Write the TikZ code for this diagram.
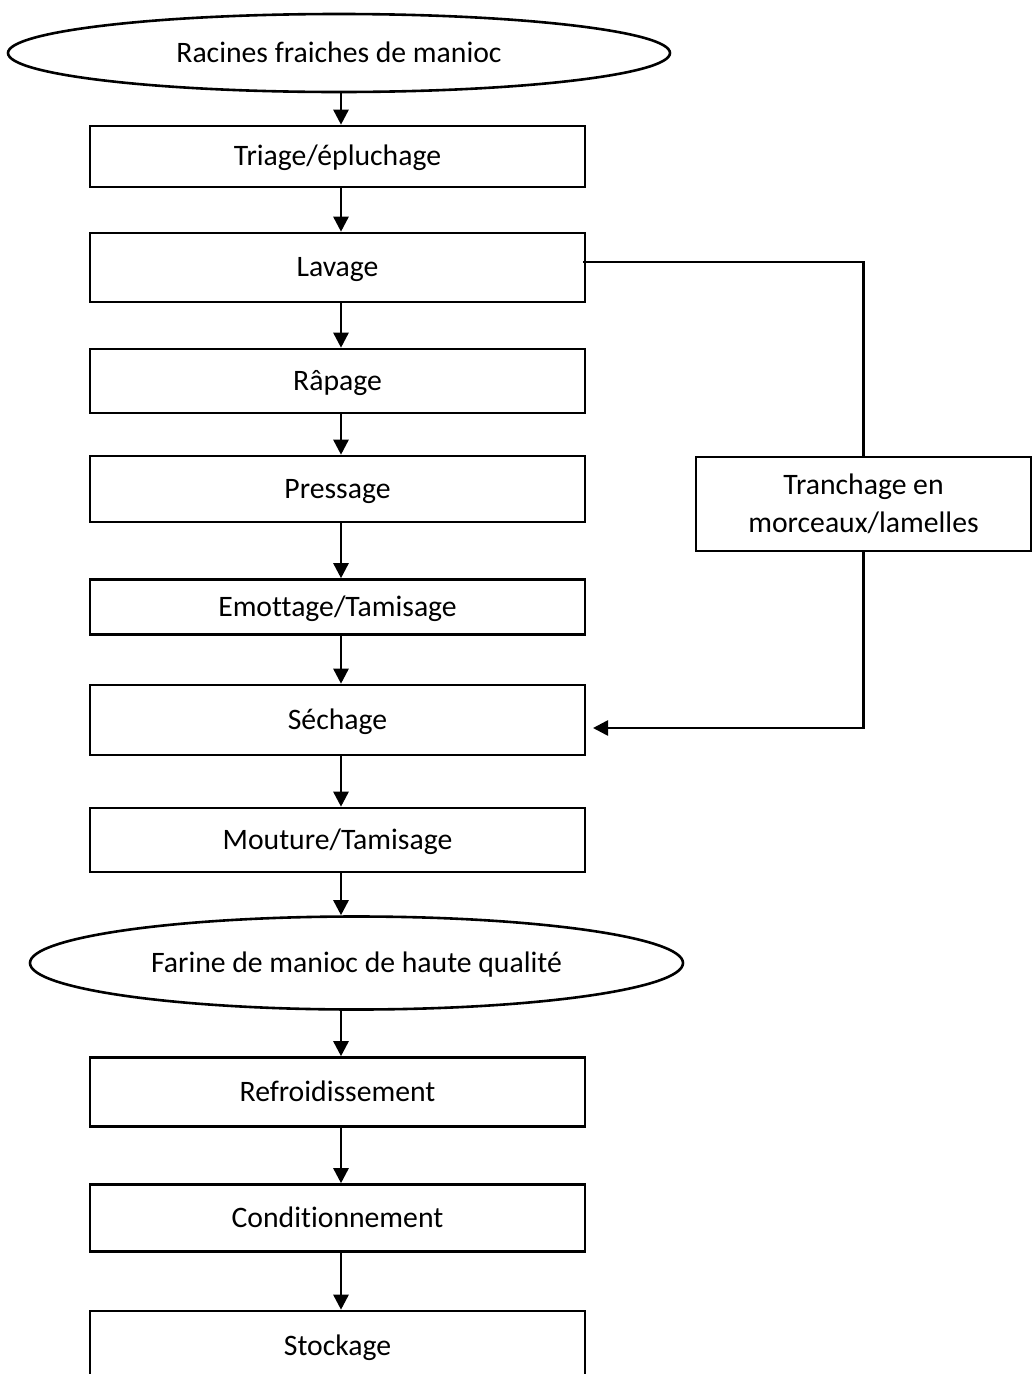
\documentclass[tikz,border=0pt]{standalone}
\usepackage{fontspec}
\setmainfont{Carlito}[Ligatures=NoCommon]
\usetikzlibrary{shapes.geometric,arrows.meta}

\begin{document}
\begin{tikzpicture}[x=1pt,y=-1pt,
  every node/.style={font=\fontsize{29.7}{38}\selectfont, align=center,
    text height=22pt, text depth=4pt, inner sep=0pt},
  stepbox/.style={draw, line width=2.6pt, rectangle, minimum width=495pt},
  endpoint/.style={draw, line width=2.6pt, ellipse},
  flow/.style={line width=2.6pt, -{Triangle[width=15pt,length=15pt]}},
  link/.style={line width=2.6pt}]

\useasboundingbox (0,0) rectangle (1036,1374);
\clip (0,0) rectangle (1036,1374);
\fill[white] (0,0) rectangle (1036,1374);

% main column
\node[endpoint, minimum width=662pt, minimum height=78pt] (src) at (339,53) {Racines fraiches de manioc};
\node[stepbox, minimum height=61pt] (triage)   at (337.5,156.5) {Triage/épluchage};
\node[stepbox, minimum height=69pt] (lavage)   at (337.5,267.5) {Lavage};
\node[stepbox, minimum height=64pt] (rapage)   at (337.5,381)   {Râpage};
\node[stepbox, minimum height=66pt] (pressage) at (337.5,489)   {Pressage};
\node[stepbox, minimum height=55pt] (emottage) at (337.5,607)   {Emottage/Tamisage};
\node[stepbox, minimum height=70pt] (sechage)  at (337.5,720)   {Séchage};
\node[stepbox, minimum height=64pt] (mouture)  at (337.5,840)   {Mouture/Tamisage};
\node[endpoint, minimum width=653pt, minimum height=93pt] (farine) at (356.5,963) {Farine de manioc de haute qualité};
\node[stepbox, minimum height=69pt] (refroid)  at (337.5,1092)  {Refroidissement};
\node[stepbox, minimum height=67pt] (condit)   at (337.5,1218)  {Conditionnement};
\node[stepbox, minimum height=70pt] (stock)    at (337.5,1346)  {Stockage};

% side branch (two lines of text, baseline on the last line)
\node[stepbox, minimum width=335pt, minimum height=94pt, text height=60pt, text depth=4pt] (tranch) at (863.5,504)
  {Tranchage en\\morceaux/lamelles};

% vertical axis of the arrows
\coordinate (axis) at (341,0);

\draw[flow] (src.south -| axis)      -- (triage.north -| axis);
\draw[flow] (triage.south -| axis)   -- (lavage.north -| axis);
\draw[flow] (lavage.south -| axis)   -- (rapage.north -| axis);
\draw[flow] (rapage.south -| axis)   -- (pressage.north -| axis);
\draw[flow] (pressage.south -| axis) -- (emottage.north -| axis);
\draw[flow] (emottage.south -| axis) -- (sechage.north -| axis);
\draw[flow] (sechage.south -| axis)  -- (mouture.north -| axis);
\draw[flow] (mouture.south -| axis)  -- (farine.north -| axis);
\draw[flow] (farine.south -| axis)   -- (refroid.north -| axis);
\draw[flow] (refroid.south -| axis)  -- (condit.north -| axis);
\draw[flow] (condit.south -| axis)   -- (stock.north -| axis);

% branch from washing through slicing to drying
\coordinate (lavout) at (583,262);
\coordinate (sechin) at (593,728);
\draw[link] (lavout) -| (tranch.north);
\draw[flow] (tranch.south) |- (sechin);

\end{tikzpicture}
\end{document}
